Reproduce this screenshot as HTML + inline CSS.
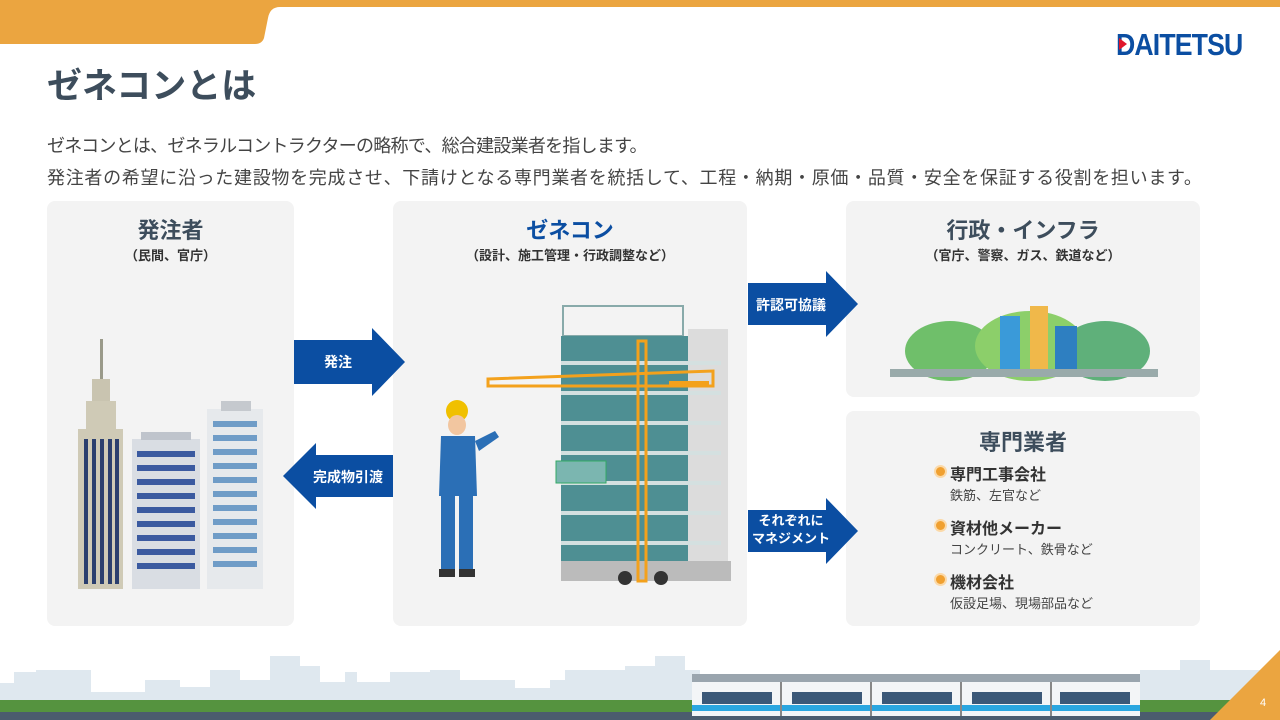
<!DOCTYPE html>
<html><head><meta charset="utf-8"><style>
*{margin:0;padding:0;box-sizing:border-box}
body{width:1280px;height:720px;overflow:hidden;background:#fff;font-family:"Liberation Sans","Noto Sans CJK JP",sans-serif;position:relative;color:#333}
.abs{position:absolute}
.panel{position:absolute;background:#f3f3f3;border-radius:8px}
.h{position:absolute;left:0;right:0;text-align:center;font-weight:bold;color:#3d4d5c}
.sub{position:absolute;left:0;right:0;text-align:center;font-weight:bold;font-size:13px;color:#333}
.arrow{position:absolute;color:#fff;font-weight:bold;font-size:14px}
.li{position:absolute;left:104px;font-weight:bold;font-size:16px;color:#333}
.li:before{content:"";position:absolute;left:-14px;top:6px;width:9px;height:9px;border-radius:50%;background:#f0a030;box-shadow:0 0 0 2px #fbd9a8}
.ls{position:absolute;left:104px;font-size:13px;color:#444}
</style></head><body>
<svg class="abs" style="left:0;top:0" width="1280" height="46"><path d="M0 0H1280V7H280Q270 7 268 18L264 38Q262 44 255 44H0Z" fill="#eba540"/></svg>
<div class="abs" style="left:1116px;top:27px;font-weight:bold;font-size:31px;color:#0b4ea2;letter-spacing:-1px;transform:scaleX(0.86);transform-origin:left">DAITETSU</div>
<div class="abs" style="left:1119px;top:38px;width:0;height:0;border-left:8px solid #e0162b;border-top:6px solid transparent;border-bottom:6px solid transparent"></div>
<div class="abs" style="left:47px;top:58px;font-size:35px;font-weight:bold;color:#3d4d5c">ゼネコンとは</div>
<div class="abs" style="left:47px;top:130px;font-size:18px;line-height:32px;color:#444;letter-spacing:-0.75px;white-space:nowrap">ゼネコンとは、ゼネラルコントラクターの略称で、総合建設業者を指します。</div>
<div class="abs" style="left:47px;top:162px;font-size:18px;line-height:32px;color:#444;letter-spacing:0.7px;white-space:nowrap">発注者の希望に沿った建設物を完成させ、下請けとなる専門業者を統括して、工程・納期・原価・品質・安全を保証する役割を担います。</div>

<div class="panel" style="left:47px;top:201px;width:247px;height:425px">
 <div class="h" style="top:12px;font-size:22px">発注者</div>
 <div class="sub" style="top:44px">（民間、官庁）</div>
 <svg class="abs" style="left:28px;top:138px" width="200" height="250">
  <rect x="25" y="0" width="3" height="40" fill="#9a9a8a"/><rect x="17" y="40" width="18" height="22" fill="#c9c4b0"/><rect x="11" y="62" width="30" height="28" fill="#cfcab6"/>
  <rect x="3" y="90" width="45" height="160" fill="#cfcab6"/>
  <g fill="#2b3f6e"><rect x="9" y="100" width="4" height="145"/><rect x="17" y="100" width="4" height="145"/><rect x="25" y="100" width="4" height="145"/><rect x="33" y="100" width="4" height="145"/><rect x="40" y="100" width="4" height="145"/></g>
  <rect x="57" y="100" width="68" height="150" fill="#d9dde3"/><rect x="66" y="93" width="50" height="8" fill="#bfc4cc"/>
  <g fill="#3b5aa0"><rect x="62" y="112" width="58" height="6"/><rect x="62" y="126" width="58" height="6"/><rect x="62" y="140" width="58" height="6"/><rect x="62" y="154" width="58" height="6"/><rect x="62" y="168" width="58" height="6"/><rect x="62" y="182" width="58" height="6"/><rect x="62" y="196" width="58" height="6"/><rect x="62" y="210" width="58" height="6"/><rect x="62" y="224" width="58" height="6"/></g>
  <rect x="132" y="70" width="56" height="180" fill="#e6e9ec"/><rect x="146" y="62" width="30" height="10" fill="#c5c9ce"/>
  <g fill="#6f9cc7"><rect x="138" y="82" width="44" height="6"/><rect x="138" y="96" width="44" height="6"/><rect x="138" y="110" width="44" height="6"/><rect x="138" y="124" width="44" height="6"/><rect x="138" y="138" width="44" height="6"/><rect x="138" y="152" width="44" height="6"/><rect x="138" y="166" width="44" height="6"/><rect x="138" y="180" width="44" height="6"/><rect x="138" y="194" width="44" height="6"/><rect x="138" y="208" width="44" height="6"/><rect x="138" y="222" width="44" height="6"/></g>
 </svg>
</div>

<div class="panel" style="left:393px;top:201px;width:354px;height:425px">
 <div class="h" style="top:12px;font-size:22px;color:#0b4ea2">ゼネコン</div>
 <div class="sub" style="top:44px">（設計、施工管理・行政調整など）</div>
 <svg class="abs" style="left:40px;top:100px" width="300" height="290">
  <rect x="130" y="5" width="120" height="30" fill="none" stroke="#8aa" stroke-width="2"/>
  <rect x="128" y="35" width="160" height="240" fill="#4e8f93"/>
  <rect x="255" y="28" width="40" height="245" fill="#dcdcdc"/>
  <g fill="#d4e0e0"><rect x="128" y="60" width="160" height="4"/><rect x="128" y="90" width="160" height="4"/><rect x="128" y="120" width="160" height="4"/><rect x="128" y="150" width="160" height="4"/><rect x="128" y="180" width="160" height="4"/><rect x="128" y="210" width="160" height="4"/><rect x="128" y="240" width="160" height="4"/></g>
  <rect x="128" y="260" width="170" height="20" fill="#bbb"/>
  <rect x="205" y="40" width="8" height="240" fill="none" stroke="#f3a11c" stroke-width="3"/>
  <path d="M55 78L280 70L280 85L55 85Z" fill="none" stroke="#f3a11c" stroke-width="3"/>
  <rect x="236" y="80" width="40" height="6" fill="#f3a11c"/>
  <rect x="123" y="160" width="50" height="22" fill="#7bb6b0" stroke="#3a6"/>
  <circle cx="192" cy="277" r="7" fill="#333"/><circle cx="228" cy="277" r="7" fill="#333"/>
  <circle cx="24" cy="110" r="11" fill="#f0c000"/><ellipse cx="24" cy="124" rx="9" ry="10" fill="#f2c6a0"/>
  <path d="M8 135H42L44 195H6Z" fill="#2b6fb6"/><path d="M42 140L62 130L66 136L46 150Z" fill="#2b6fb6"/>
  <rect x="8" y="195" width="14" height="75" fill="#2b6fb6"/><rect x="26" y="195" width="14" height="75" fill="#2b6fb6"/>
  <rect x="6" y="268" width="16" height="8" fill="#333"/><rect x="26" y="268" width="16" height="8" fill="#333"/>
 </svg>
</div>

<div class="panel" style="left:846px;top:201px;width:354px;height:196px">
 <div class="h" style="top:12px;font-size:22px">行政・インフラ</div>
 <div class="sub" style="top:44px">（官庁、警察、ガス、鉄道など）</div>
 <svg class="abs" style="left:44px;top:100px" width="270" height="80">
  <ellipse cx="60" cy="50" rx="45" ry="30" fill="#6fbf6a"/><ellipse cx="140" cy="45" rx="55" ry="35" fill="#8ccf6a"/><ellipse cx="215" cy="50" rx="45" ry="30" fill="#5fb07a"/>
  <rect x="110" y="15" width="20" height="55" fill="#3a9ad9"/><rect x="140" y="5" width="18" height="65" fill="#f0b84a"/><rect x="165" y="25" width="22" height="45" fill="#2e7fc1"/>
  <rect x="0" y="68" width="268" height="8" fill="#9aa"/>
 </svg>
</div>

<div class="panel" style="left:846px;top:411px;width:354px;height:215px">
 <div class="h" style="top:14px;font-size:22px">専門業者</div>
 <div class="li" style="top:50px">専門工事会社</div><div class="ls" style="top:74px">鉄筋、左官など</div>
 <div class="li" style="top:104px">資材他メーカー</div><div class="ls" style="top:128px">コンクリート、鉄骨など</div>
 <div class="li" style="top:158px">機材会社</div><div class="ls" style="top:182px">仮設足場、現場部品など</div>
</div>

<svg class="abs" style="left:0;top:0" width="1280" height="720">
 <path d="M294 340H372V328L405 362L372 396V384H294Z" fill="#0b4ea2"/>
 <path d="M393 455H316V443L283 476L316 509V497H393Z" fill="#0b4ea2"/>
 <path d="M748 283H826V271L858 304L826 337V325H748Z" fill="#0b4ea2"/>
 <path d="M748 510H826V498L858 531L826 564V552H748Z" fill="#0b4ea2"/>
</svg>
<div class="arrow" style="left:294px;top:352px;width:88px;text-align:center">発注</div>
<div class="arrow" style="left:303px;top:467px;width:90px;text-align:center">完成物引渡</div>
<div class="arrow" style="left:748px;top:295px;width:86px;text-align:center">許認可協議</div>
<div class="arrow" style="left:748px;top:512px;width:86px;text-align:center;font-size:13px;line-height:18px">それぞれに<br>マネジメント</div>

<svg class="abs" style="left:0;top:650px" width="1280" height="70">
 <g fill="#dfe8ef">
  <rect x="0" y="33" width="40" height="30"/><rect x="14" y="22" width="26" height="40"/><rect x="36" y="20" width="55" height="45"/><rect x="58" y="28" width="22" height="35"/><rect x="85" y="42" width="60" height="25"/><rect x="145" y="30" width="35" height="35"/><rect x="180" y="37" width="30" height="30"/><rect x="210" y="20" width="30" height="45"/><rect x="240" y="30" width="70" height="35"/><rect x="270" y="6" width="30" height="60"/><rect x="300" y="16" width="20" height="50"/><rect x="320" y="32" width="40" height="35"/><rect x="345" y="22" width="12" height="45"/><rect x="360" y="32" width="40" height="35"/><rect x="390" y="22" width="40" height="45"/><rect x="430" y="20" width="30" height="45"/><rect x="460" y="30" width="55" height="35"/><rect x="500" y="38" width="50" height="30"/><rect x="550" y="30" width="40" height="35"/><rect x="565" y="20" width="30" height="45"/><rect x="595" y="20" width="30" height="45"/><rect x="625" y="16" width="30" height="50"/><rect x="655" y="6" width="30" height="60"/><rect x="670" y="20" width="30" height="45"/><rect x="1140" y="20" width="140" height="45"/><rect x="1180" y="10" width="30" height="55"/>
 </g>
 <rect x="0" y="50" width="1280" height="20" fill="#55933f"/>
 <rect x="0" y="62" width="1280" height="8" fill="#4b5c6e"/>
 <g>
  <rect x="692" y="24" width="448" height="8" fill="#9aa5ae"/>
  <rect x="692" y="32" width="448" height="34" fill="#f3f5f7"/>
  <rect x="692" y="55" width="448" height="6" fill="#2aa6e0"/>
  <g fill="#3b5878"><rect x="702" y="42" width="70" height="12"/><rect x="792" y="42" width="70" height="12"/><rect x="882" y="42" width="70" height="12"/><rect x="972" y="42" width="70" height="12"/><rect x="1060" y="42" width="70" height="12"/></g>
  <g fill="#888"><rect x="780" y="32" width="2" height="34"/><rect x="870" y="32" width="2" height="34"/><rect x="960" y="32" width="2" height="34"/><rect x="1050" y="32" width="2" height="34"/></g>
 </g>
 <path d="M1210 70L1280 0V70Z" fill="#eba540"/>
 <text x="1260" y="56" fill="#fff" font-size="11" font-family="Liberation Sans">4</text>
</svg>
</body></html>
